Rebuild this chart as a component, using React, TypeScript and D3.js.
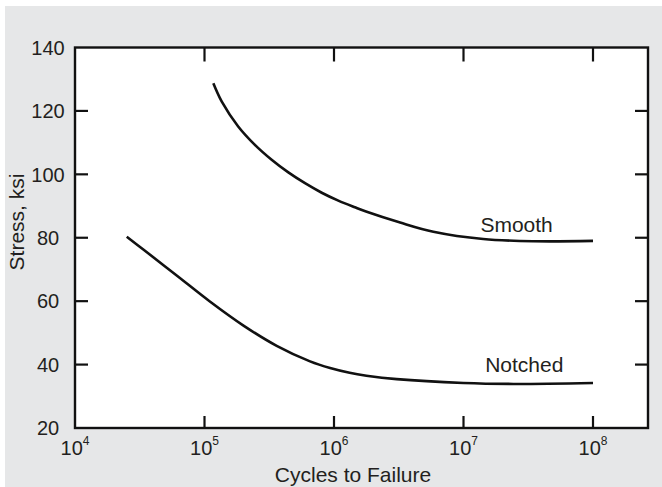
import React from "react";
import * as d3 from "d3";

// Data
const smoothN = [1.17e5, 1.36e5, 1.82e5, 2.45e5, 3.3e5, 4.44e5, 5.97e5, 8.04e5, 1.08e6, 1.45e6, 1.79e6, 3.24e6, 5.85e6, 1.42e7, 3.46e7, 1.0e8];
const smoothS = [128.7, 122.9, 115.1, 109.3, 104.6, 100.6, 97.2, 94.2, 91.7, 89.6, 88.2, 84.8, 81.9, 79.6, 78.9, 79.0];
const notchedN = [2.51e4, 3.37e4, 6.1e4, 1.1e5, 2.0e5, 3.61e5, 6.53e5, 9.33e5, 1.32e6, 1.78e6, 3.05e6, 1.0e7, 2.43e7, 1.0e8];
const notchedS = [80.3, 76.3, 68.1, 59.9, 52.3, 45.9, 41.0, 38.9, 37.4, 36.5, 35.4, 34.2, 33.9, 34.2];
const xTickExps = [4, 5, 6, 7, 8];
const yTicks = [20, 40, 60, 80, 100, 120, 140];
const labels = [
  { text: "Smooth", n: 1.35e7, s: 81.7 },
  { text: "Notched", n: 1.47e7, s: 37.8 },
];

const W = 662;
const H = 487;
const L = 75, R = 648, T = 47.5, B = 428;
const FONT = "'Liberation Sans', Arial, Helvetica, sans-serif";
const TXT = "#231f20";

export default function App() {
  const x = d3.scaleLog().domain([1e4, Math.pow(10, 8.4247)]).range([L, R]);
  const y = d3.scaleLinear().domain([20, 140]).range([B, T]);
  const line = d3
    .line<[number, number]>()
    .x((d) => x(d[0]))
    .y((d) => y(d[1]))
    .curve(d3.curveCatmullRom.alpha(0.5));
  const smooth = smoothN.map((n, i) => [n, smoothS[i]] as [number, number]);
  const notched = notchedN.map((n, i) => [n, notchedS[i]] as [number, number]);
  const innerY = yTicks.slice(1, -1);
  const innerX = xTickExps.slice(1).map((e) => Math.pow(10, e));
  const tl = 13;

  return (
    <svg
      width={W}
      height={H}
      style={{ position: "absolute", left: 0, top: 0 }}
      fontFamily={FONT}
    >
      <rect x={0} y={0} width={W} height={H} fill="#ffffff" />
      <rect x={5} y={6} width={W - 5} height={H - 6} fill="#e6e7e8" />
      <rect x={L} y={T} width={R - L} height={B - T} fill="#ffffff" />

      {/* curves */}
      <path d={line(smooth) || ""} fill="none" stroke="#111" strokeWidth={2.6} />
      <path d={line(notched) || ""} fill="none" stroke="#111" strokeWidth={2.6} />

      {/* ticks */}
      {innerY.map((v) => (
        <g key={"yt" + v}>
          <line x1={L} x2={L + tl} y1={y(v)} y2={y(v)} stroke="#111" strokeWidth={2.2} />
          <line x1={R} x2={R - tl} y1={y(v)} y2={y(v)} stroke="#111" strokeWidth={2.2} />
        </g>
      ))}
      {innerX.map((v) => (
        <g key={"xt" + v}>
          <line x1={x(v)} x2={x(v)} y1={T} y2={T + 14} stroke="#111" strokeWidth={2.2} />
          <line x1={x(v)} x2={x(v)} y1={B} y2={B - 12} stroke="#111" strokeWidth={2.2} />
        </g>
      ))}

      {/* frame */}
      <rect x={L} y={T} width={R - L} height={B - T} fill="none" stroke="#111" strokeWidth={2.4} />

      {/* y tick labels */}
      {yTicks.map((v) => (
        <text
          key={"yl" + v}
          x={48}
          y={y(v)}
          dy="0.36em"
          textAnchor="middle"
          fontSize={20}
          fill={TXT}
        >
          {v}
        </text>
      ))}

      {/* x tick labels */}
      {xTickExps.map((e) => (
        <text
          key={"xl" + e}
          x={x(Math.pow(10, e))}
          y={455}
          textAnchor="middle"
          fontSize={20}
          fill={TXT}
        >
          10
          <tspan fontSize={12} dy={-10}>
            {e}
          </tspan>
        </text>
      ))}

      {/* axis titles */}
      <text x={353} y={481.5} textAnchor="middle" fontSize={21} fill={TXT}>
        Cycles to Failure
      </text>
      <text
        transform={`translate(24,222) rotate(-90)`}
        textAnchor="middle"
        fontSize={21}
        fill={TXT}
      >
        Stress, ksi
      </text>

      {/* curve labels */}
      {labels.map((lb) => (
        <text key={lb.text} x={x(lb.n)} y={y(lb.s)} fontSize={21} fill={TXT}>
          {lb.text}
        </text>
      ))}
    </svg>
  );
}
